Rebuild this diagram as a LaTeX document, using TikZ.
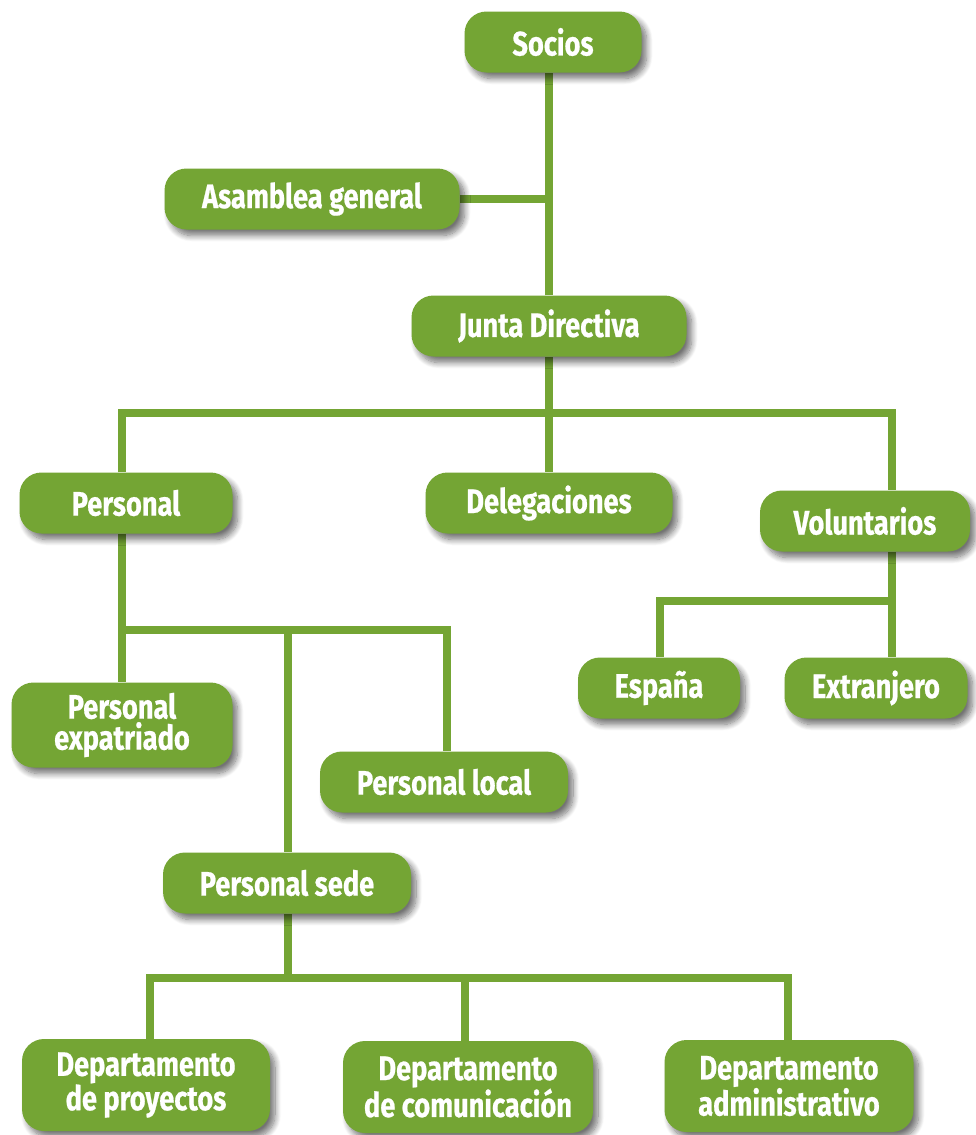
\documentclass[tikz,border=0pt]{standalone}
\usepackage{fontspec}
\setmainfont{Fira Sans}[FakeStretch=0.80, BoldFeatures={FakeStretch=0.80, FakeBold=0.6}]
\usetikzlibrary{shadows.blur,backgrounds}
\definecolor{orggreen}{RGB}{116,165,52}
\tikzset{
  box/.style={rounded corners=22pt, fill=orggreen, text=white,
    font=\fontsize{34}{31}\selectfont\bfseries, align=center,
    minimum height=61pt, inner sep=0pt,
    blur shadow={shadow xshift=5pt, shadow yshift=-6pt, shadow blur steps=10, shadow opacity=55, shadow blur radius=6pt}},
  conn/.style={draw=orggreen, line width=7.5pt}
}
\begin{document}
\begin{tikzpicture}[x=1pt,y=1pt]
\useasboundingbox (0,0) rectangle (976,-1135);
\node[box, minimum width=177pt] (socios) at (553,-42) {Socios};
\node[box, minimum width=295pt] (asamblea) at (312,-199) {Asamblea general};
\node[box, minimum width=275pt] (junta) at (549,-326) {Junta Directiva};
\node[box, minimum width=213pt] (personal) at (126,-503) {Personal};
\node[box, minimum width=247pt] (delegaciones) at (549,-503) {Delegaciones};
\node[box, minimum width=210pt] (voluntarios) at (865,-521) {Voluntarios};
\node[box, minimum width=162pt] (espana) at (659,-688) {España};
\node[box, minimum width=183pt] (extranjero) at (876,-688) {Extranjero};
\node[box, minimum width=221pt, minimum height=85pt] (expatriado) at (122,-725) {Personal\\expatriado};
\node[box, minimum width=248pt] (local) at (444,-782) {Personal local};
\node[box, minimum width=248pt] (sede) at (287,-883) {Personal sede};
\node[box, minimum width=248pt, minimum height=92pt] (proyectos) at (146,-1085) {Departamento\\de proyectos};
\node[box, minimum width=250pt, minimum height=92pt] (comunicacion) at (468,-1087) {Departamento\\de comunicación};
\node[box, minimum width=249pt, minimum height=92pt] (administrativo) at (789,-1086) {Departamento\\administrativo};
\begin{scope}[on background layer]
\coordinate (jb) at (549,-413);
\coordinate (vx) at (892,-413);
\coordinate (px) at (122,-413);
\coordinate (vb) at (892,-601);
\coordinate (pb) at (122,-630);
\coordinate (sb) at (288,-978);
\draw[conn] (junta.north) -- (junta.north |- socios.south);
\draw[conn] (asamblea.east) -- (asamblea.east -| junta.north);
\draw[conn] (junta.south) -- (jb);
\draw[conn] (px |- personal.north) -- (px) -- (vx) -- (vx |- voluntarios.north);
\draw[conn] (jb) -- (delegaciones.north);
\draw[conn] (vx |- voluntarios.south) -- (vx |- extranjero.north);
\draw[conn] (660,-601 |- espana.north) -- (660,-601) -- (vb);
\draw[conn] (px |- personal.south) -- (px |- expatriado.north);
\draw[conn] (pb) -- (447,-630) -- (447,-630 |- local.north);
\draw[conn] (288,-630) -- (288,-630 |- sede.north);
\draw[conn] (sb |- sede.south) -- (sb);
\draw[conn] (150,-978 |- proyectos.north) -- (150,-978) -- (788,-978) -- (788,-978 |- administrativo.north);
\draw[conn] (465,-978) -- (465,-978 |- comunicacion.north);
\end{scope}
\end{tikzpicture}
\end{document}
